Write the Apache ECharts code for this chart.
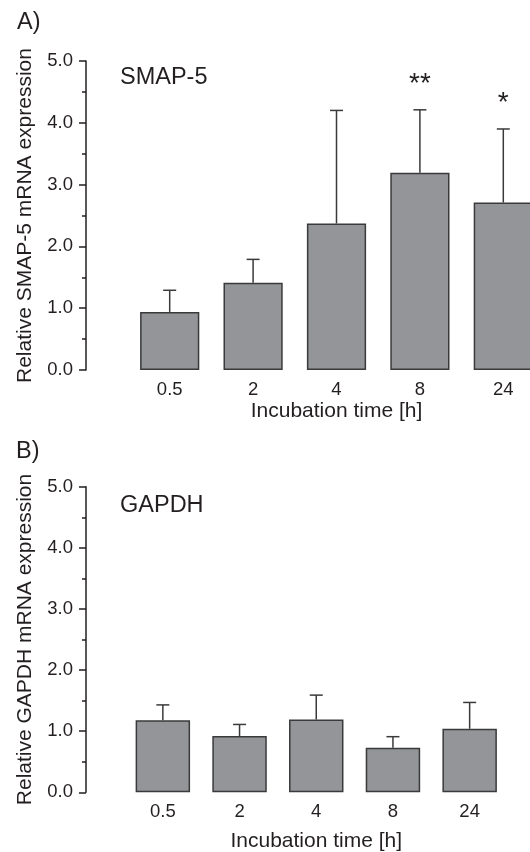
<!DOCTYPE html>
<html>
<head>
<meta charset="utf-8">
<script src="https://cdn.jsdelivr.net/npm/echarts@6/dist/echarts.min.js"></script>
<style>
html,body{margin:0;padding:0;background:#fff;}
#chart{width:530px;height:852px;}
</style>
</head>
<body>
<div id="chart"></div>
<script>
// ---- data ----
const categories = ['0.5', '2', '4', '8', '24'];
const smapMean = [0.94, 1.41, 2.37, 3.19, 2.71];
const smapUpper = [1.29, 1.79, 4.20, 4.21, 3.90];
const smapMarks = ['', '', '', '**', '*'];
const gapdhMean = [1.18, 0.92, 1.19, 0.73, 1.04];
const gapdhUpper = [1.43, 1.11, 1.59, 0.91, 1.47];
const gapdhMarks = ['', '', '', '', ''];
const yMin = 0, yMax = 5, yStep = 1;

const FONT = "'Liberation Sans', Arial, sans-serif";
const TXT = '#231f20';
const BAR = '#939598';
const EDGE = '#3a3a3a';

function errRender(marks) {
  return function (params, api) {
    const x = api.value(0);
    const p0 = api.coord([x, api.value(1)]);
    const p1 = api.coord([x, api.value(2)]);
    const half = 6.5;
    const style = { stroke: EDGE, lineWidth: 1.5 };
    const children = [
      { type: 'line', shape: { x1: p0[0], y1: p0[1], x2: p1[0], y2: p1[1] }, style: style },
      { type: 'line', shape: { x1: p1[0] - half, y1: p1[1], x2: p1[0] + half, y2: p1[1] }, style: style }
    ];
    const mk = marks[params.dataIndex];
    if (mk) {
      children.push({ type: 'text', x: p1[0], y: p1[1] - 26,
        style: { text: mk, font: '28px ' + FONT, fill: TXT, align: 'center', verticalAlign: 'middle' } });
    }
    return { type: 'group', children: children };
  };
}

function yAxisDef(gridIndex, name, offset) {
  return {
    type: 'value', gridIndex: gridIndex, min: yMin, max: yMax, interval: yStep,
    offset: offset,
    name: name, nameLocation: 'middle', nameGap: 50,
    nameTextStyle: { fontFamily: FONT, fontSize: 21, color: TXT },
    axisLine: { show: true, lineStyle: { color: TXT, width: 1.5 } },
    axisTick: { show: true, length: 7, lineStyle: { color: TXT, width: 1.5 } },
    minorTick: { show: true, splitNumber: 2, length: 4, lineStyle: { color: TXT, width: 1.5 } },
    splitLine: { show: false },
    axisLabel: { margin: 13, fontFamily: FONT, fontSize: 18.5, color: TXT,
      formatter: v => v.toFixed(1) }
  };
}

function xAxisDef(gridIndex, nameGap) {
  return {
    type: 'category', gridIndex: gridIndex, data: categories,
    name: 'Incubation time [h]', nameLocation: 'middle', nameGap: nameGap,
    nameTextStyle: { fontFamily: FONT, fontSize: 21, color: TXT },
    axisLine: { show: false }, axisTick: { show: false },
    axisLabel: { margin: 10, fontFamily: FONT, fontSize: 18.5, color: TXT }
  };
}

function errData(mean, upper) {
  return mean.map((m, i) => [i, m, upper[i]]);
}

const titleStyle = { fontFamily: FONT, fontSize: 23.5, fontWeight: 'normal', color: TXT };

const chart = echarts.init(document.getElementById('chart'), null, { renderer: 'canvas' });
chart.setOption({
  animation: false,
  backgroundColor: '#ffffff',
  title: [
    { text: 'A)', left: 17, top: 11, padding: 0, textStyle: titleStyle },
    { text: 'SMAP-5', left: 120, top: 66, padding: 0, textStyle: titleStyle },
    { text: 'B)', left: 16, top: 440, padding: 0, textStyle: titleStyle },
    { text: 'GAPDH', left: 120, top: 494, padding: 0, textStyle: titleStyle }
  ],
  grid: [
    { left: 128, top: 61, width: 417, height: 309, containLabel: false, outerBoundsMode: 'none' },
    { left: 124.5, top: 486.7, width: 383.5, height: 305.6, containLabel: false, outerBoundsMode: 'none' }
  ],
  xAxis: [xAxisDef(0, 31), xAxisDef(1, 38)],
  yAxis: [
    yAxisDef(0, 'Relative SMAP-5 mRNA expression', 42),
    yAxisDef(1, 'Relative GAPDH mRNA expression', 38.5)
  ],
  series: [
    { type: 'bar', xAxisIndex: 0, yAxisIndex: 0, data: smapMean, barWidth: '71%',
      itemStyle: { color: BAR, borderColor: EDGE, borderWidth: 1.5 } },
    { type: 'custom', xAxisIndex: 0, yAxisIndex: 0, data: errData(smapMean, smapUpper),
      encode: { x: 0, y: [1, 2] }, renderItem: errRender(smapMarks), clip: false, z: 3 },
    { type: 'bar', xAxisIndex: 1, yAxisIndex: 1, data: gapdhMean, barWidth: '71%',
      itemStyle: { color: BAR, borderColor: EDGE, borderWidth: 1.5 } },
    { type: 'custom', xAxisIndex: 1, yAxisIndex: 1, data: errData(gapdhMean, gapdhUpper),
      encode: { x: 0, y: [1, 2] }, renderItem: errRender(gapdhMarks), clip: false, z: 3 }
  ]
});
</script>
</body>
</html>
